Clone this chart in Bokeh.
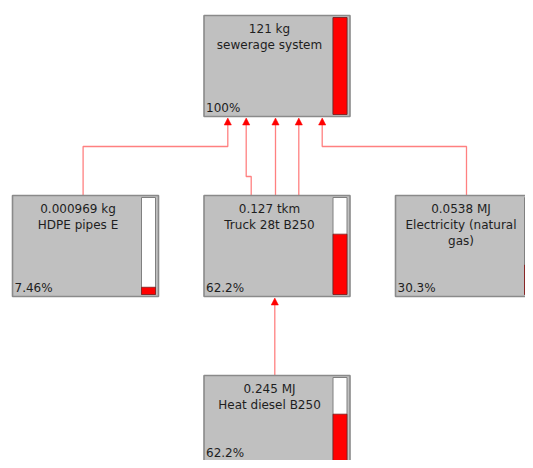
import textwrap
from bokeh.plotting import figure
from bokeh.models import Range1d
from bokeh.core.properties import value
from bokeh.embed import file_html
from bokeh.resources import INLINE

# ---- data ----
amounts = ["121 kg", "0.000969 kg", "0.127 tkm", "0.0538 MJ", "0.245 MJ"]
names = ["sewerage system", "HDPE pipes E", "Truck 28t B250",
         "Electricity (natural gas)", "Heat diesel B250"]
percents = [100, 7.46, 62.2, 30.3, 62.2]
# edges: (source index, target index)
edge_src = [1, 2, 2, 2, 3, 4]
edge_tgt = [0, 0, 0, 0, 0, 2]

# ---- layout (grid placement and drawing geometry) ----
grid_col = [1, 0, 1, 2, 1]
grid_row = [0, 1, 1, 1, 2]
X0, DX, Y0, DY = 12.0, 191.5, 15.0, 180.0
BW, BH = 146.0, 101.0
BAR_L, BAR_R, BAR_PAD = 129.0, 143.0, 2.0
exit_off = [70.6, 47.2, 71.5, 94.8, 71.0, 70.8]
entry_off = [23.8, 42.2, 71.5, 94.8, 118.2, 70.8]
elbow_off = [30.0, 60.0, None, None, 30.0, None]
ARROW_H, ARROW_W = 7.0, 3.6
FONT = value("DejaVu Sans")
W, H = 525, 460

lefts = [X0 + c * DX for c in grid_col]
tops = [Y0 + r * DY for r in grid_row]
rights = [l + BW for l in lefts]
bottoms = [t + BH for t in tops]

p = figure(width=W, height=H, output_backend="svg", toolbar_location=None,
           x_range=Range1d(0, W), y_range=Range1d(H, 0),
           min_border=0, min_border_left=0, min_border_right=0,
           min_border_top=0, min_border_bottom=0)
p.axis.visible = False
p.grid.visible = False
p.outline_line_color = None
p.background_fill_color = "white"
p.border_fill_color = "white"

# connectors
xs, ys, ax, ay = [], [], [], []
for i, (s, t) in enumerate(zip(edge_src, edge_tgt)):
    sx = lefts[s] + exit_off[i]
    tx = lefts[t] + entry_off[i]
    sy = tops[s]
    ty = bottoms[t] + ARROW_H
    if elbow_off[i] is None:
        xs.append([sx, tx]); ys.append([sy, ty])
    else:
        ey = bottoms[t] + elbow_off[i]
        xs.append([sx, sx, tx, tx]); ys.append([sy, ey, ey, ty])
    tip = bottoms[t] + 1.5
    ax.append([tx, tx - ARROW_W, tx + ARROW_W])
    ay.append([tip, tip + ARROW_H, tip + ARROW_H])
p.multi_line(xs, ys, line_color="#ff8080", line_width=1.3)
p.patches(ax, ay, fill_color="#ff0000", line_color="#ff0000", line_width=0.5)

# boxes
p.quad(left=lefts, right=rights, top=tops, bottom=bottoms,
       fill_color="#c0c0c0", line_color="#8a8a8a", line_width=1.6)

# bars
bl = [l + BAR_L for l in lefts]
br = [l + BAR_R for l in lefts]
bt = [t + BAR_PAD for t in tops]
bb = [b - BAR_PAD for b in bottoms]
p.quad(left=bl, right=br, top=bt, bottom=bb,
       fill_color="white", line_color="#808080", line_width=1)
rt = [b - (b - t) * min(v, 100) / 100.0 for b, t, v in zip(bb, bt, percents)]
p.quad(left=bl, right=br, top=rt, bottom=bb,
       fill_color="#ff0000", line_color="#7a2020", line_width=0.8)

# texts
tx_, ty_, tt = [], [], []
for i in range(len(amounts)):
    cx = lefts[i] + BAR_L / 2.0 + 1
    lines = [amounts[i]] + textwrap.wrap(names[i], 20)
    for k, line in enumerate(lines):
        tx_.append(cx); ty_.append(tops[i] + 13 + 16 * k); tt.append(line)
p.text(x=tx_, y=ty_, text=tt, text_align="center", text_baseline="middle",
       text_font=FONT, text_font_size="12px", text_color="#1e1e1e")

# percentage labels (kept inside the visible frame)
px = [l + 2 for l in lefts]
py = [min(b - 9, H - 8) for b in bottoms]
pt = [f"{v:g}%" for v in percents]
p.text(x=px, y=py, text=pt, text_align="left", text_baseline="middle",
       text_font=FONT, text_font_size="12px", text_color="#1e1e1e")

open("out.html", "w").write(file_html(p, INLINE))
